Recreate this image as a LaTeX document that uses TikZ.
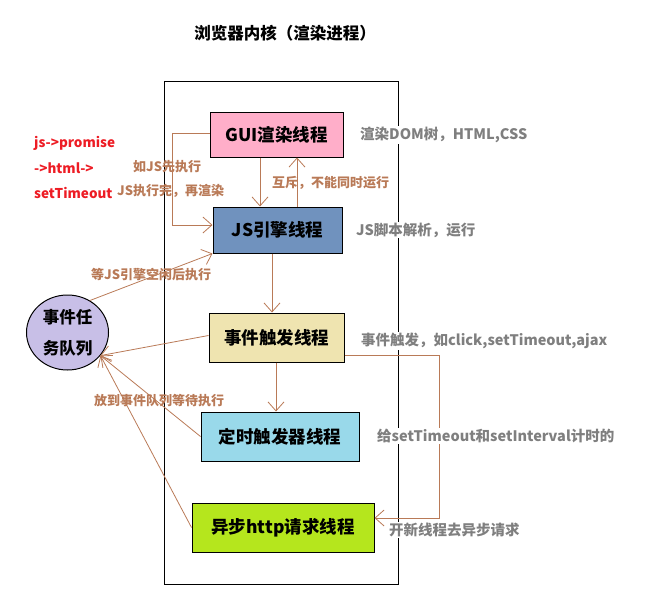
\documentclass[tikz,border=0pt]{standalone}
\usepackage{fontspec}
\setmainfont{Noto Sans CJK SC}
\usetikzlibrary{arrows.meta,shapes.geometric}
\definecolor{pinkc}{HTML}{FFAEC9}
\definecolor{bluec}{HTML}{7092BE}
\definecolor{beigec}{HTML}{EFE4B0}
\definecolor{lbluec}{HTML}{99D9EA}
\definecolor{limec}{HTML}{B5E61D}
\definecolor{lavc}{HTML}{C8BFE7}
\definecolor{redc}{HTML}{ED1C24}
\definecolor{brownc}{HTML}{B97A57}
\definecolor{grayc}{HTML}{7F7F7F}
\tikzset{
  box/.style={draw=black, line width=1pt, inner sep=0pt, font=\bfseries\fontsize{17.5}{17.5}\selectfont},
  arr/.style={draw=brownc, line width=0.8pt, -{Straight Barb[length=9pt,width=16pt]}},
  brownlab/.style={text=brownc, inner sep=1pt, anchor=west, font=\bfseries\fontsize{13}{13}\selectfont},
  graylab/.style={text=grayc, fill=white, inner sep=1pt, anchor=west, font=\bfseries\fontsize{14.5}{14.5}\selectfont},
  redlab/.style={text=redc, inner sep=1pt, anchor=west, font=\bfseries\fontsize{13.5}{13.5}\selectfont},
}
\begin{document}
\begin{tikzpicture}[x=1pt,y=-1pt]
\useasboundingbox (0,0) rectangle (655,608);
\node[font=\bfseries\fontsize{16.5}{16.5}\selectfont] (title) at (285,33) {浏览器内核（渲染进程）};
\draw[line width=1pt] (164,81) rectangle (398,584);
\node[box, fill=pinkc, minimum width=133, minimum height=45] (gui) at (276.5,134.5) {GUI渲染线程};
\node[box, fill=bluec, minimum width=129, minimum height=46] (js) at (277.5,230) {JS引擎线程};
\node[box, fill=beigec, minimum width=135, minimum height=49] (ev) at (276.5,337.5) {事件触发线程};
\node[box, fill=lbluec, minimum width=158, minimum height=49] (tm) at (280,436.5) {定时触发器线程};
\node[box, fill=limec, minimum width=182, minimum height=49] (hx) at (283,527.5) {异步http请求线程};
\node[ellipse, draw=black, line width=1pt, fill=lavc, minimum width=82, minimum height=75, inner sep=0pt, align=center, font=\bfseries\fontsize{16.5}{31}\selectfont] (q) at (67.5,332.5) {事件任\\务队列};
\node[redlab] (r1) at (33,143) {js->promise};
\node[redlab] (r2) at (33,168) {->html->};
\node[redlab] (r3) at (33,193) {setTimeout};
\coordinate (c260) at (260,0);
\coordinate (c297) at (297,0);
\coordinate (c272) at (272,0);
\coordinate (c276) at (276,0);
\draw[arr] (c260 |- gui.south) -- (c260 |- js.north);
\draw[arr] (c297 |- js.north) -- (c297 |- gui.south);
\draw[arr] (c272 |- js.south) -- (c272 |- ev.north);
\draw[arr] (c276 |- ev.south) -- (c276 |- tm.north);
\draw[arr] ([yshift=1.5pt]gui.west) -- ++(-37,0) |- ([yshift=5pt]js.west);
\draw[arr] (q.55) -- (js.south west);
\draw[arr] ([yshift=2pt]ev.west) -- (q.-35);
\draw[arr] (tm.west) -- (q.-35);
\draw[arr] (hx.west) -- (q.-35);
\draw[arr] ([yshift=-17.5pt]ev.east) -- ++(95,0) |- ([yshift=9.5pt]hx.east);
\node[brownlab] (l1) at (132,167) {如JS先执行};
\node[brownlab] (l2) at (116,191) {JS执行完，再渲染};
\node[brownlab] (l3) at (271,183) {互斥，不能同时运行};
\node[brownlab] (l4) at (90,275) {等JS引擎空闲后执行};
\node[brownlab] (l5) at (93,401) {放到事件队列等待执行};
\node[graylab] (g1) at (359,135) {渲染DOM树，HTML,CSS};
\node[graylab] (g2) at (355,230) {JS脚本解析，运行};
\node[graylab] (g3) at (360,341) {事件触发，如click,setTimeout,ajax};
\node[graylab] (g4) at (376,436) {给setTimeout和setInterval计时的};
\node[graylab] (g5) at (388,530) {开新线程去异步请求};
\end{tikzpicture}
\end{document}
